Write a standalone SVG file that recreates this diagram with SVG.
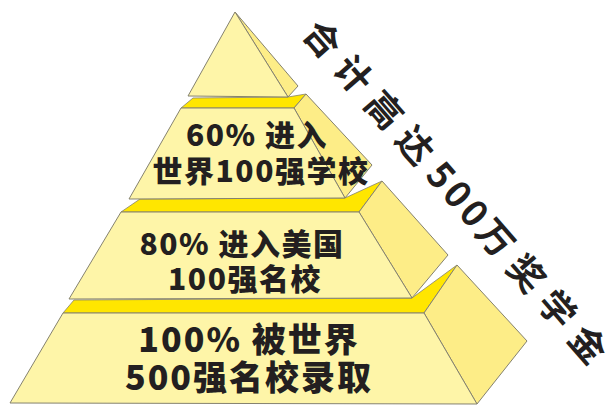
<svg xmlns="http://www.w3.org/2000/svg" width="615" height="406" viewBox="0 0 615 406">
<style>
.front{fill:#FEF5A8;stroke:#85826f;stroke-width:1;stroke-linejoin:round}
.side{fill:#FDED87;stroke:#85826f;stroke-width:1;stroke-linejoin:round}
.strip{fill:#FFE600;stroke:#85826f;stroke-width:0.8;stroke-linejoin:round}
.lbl{font-family:"Noto Sans CJK SC","Noto Sans",sans-serif;font-weight:900;fill:#231f20;text-anchor:middle}
.t2{font-size:30px;letter-spacing:1.5px}
.t4{font-size:34px;letter-spacing:2px}
.title{font-family:"Noto Sans CJK SC","Noto Sans",sans-serif;font-weight:bold;fill:#231f20;font-size:36px;text-anchor:middle;dominant-baseline:central}
.cj{letter-spacing:11px}
.dg{letter-spacing:4px}
</style>
<rect width="615" height="406" fill="#ffffff"/>
<g id="tier4">
<polygon class="strip" points="74,300 412,298 457,265 424,313 63,313"/>
<polygon class="side" points="457,265 527,341 477,404 424,313"/>
<polygon class="front" points="63,313 424,313 477,404 10,403"/>
<text class="lbl t4" x="249" y="352">100% 被世界</text>
<text class="lbl t4" x="249" y="390">500强名校录取</text>
</g>
<g id="tier3">
<polygon class="strip" points="140,199 345,198 382,181 359,212 121,212"/>
<polygon class="side" points="382,181 448,255 412,298 359,212"/>
<polygon class="front" points="121,212 359,212 412,298 69,299"/>
<text class="lbl t2" x="242" y="255">80% 进入美国</text>
<text class="lbl t2" x="245" y="290">100强名校</text>
</g>
<g id="tier2">
<polygon class="strip" points="193,98 288,97 306,94 294,108 181,108"/>
<polygon class="side" points="306,94 372,165 345,198 294,108"/>
<polygon class="front" points="181,108 294,108 345,198 129,199"/>
<text class="lbl t2" x="257" y="146">60% 进入</text>
<text class="lbl t2" x="261" y="182">世界100强学校</text>
</g>
<g id="tier1">
<polygon class="side" points="235,12 298,86 288,97"/>
<polygon class="front" points="235,12 188,96 288,97"/>
</g>
<g id="title">
<text class="title" transform="translate(461,194) rotate(49)"><tspan class="cj">合计高达</tspan><tspan class="dg">500</tspan><tspan class="cj">万奖学金</tspan></text>
</g>
</svg>
